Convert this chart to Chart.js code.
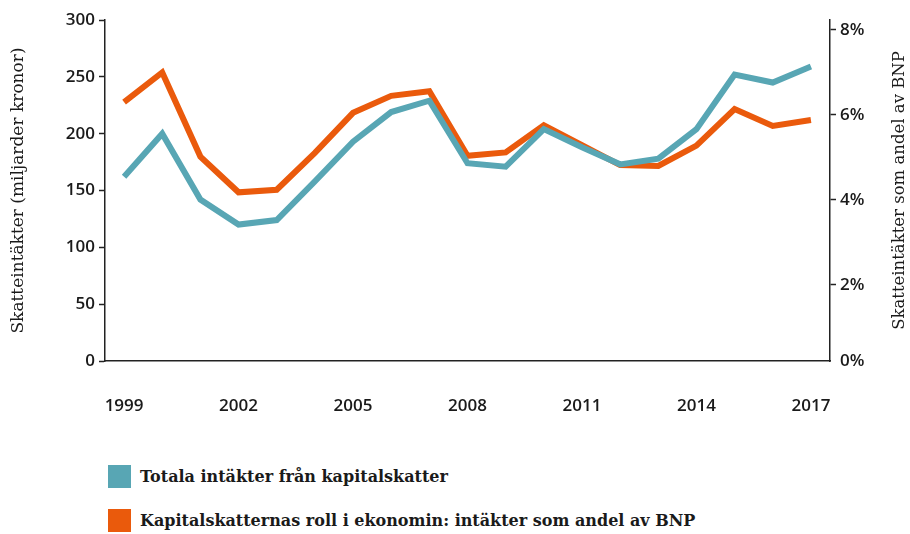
<!DOCTYPE html>
<html>
<head>
<meta charset="utf-8">
<script src="https://cdn.jsdelivr.net/npm/chart.js@4.4.1/dist/chart.umd.min.js"></script>
<style>
  body { margin: 0; background: #fff; }
  #wrap { position: relative; width: 910px; height: 440px; }
  #legend { position: absolute; left: 108px; top: 465px; font-family: "DejaVu Serif", serif; font-weight: bold; font-size: 16px; color: #1a1a1a; }
  #legend div { display: flex; align-items: center; height: 22px; margin-bottom: 22px; }
  #legend span.box { display: inline-block; width: 23px; height: 23px; margin-right: 9px; }
</style>
</head>
<body>
<div id="wrap"><canvas id="taxChart"></canvas></div>
<div id="legend"></div>
<script>
const years = ['1999', '2000', '2001', '2002', '2003', '2004', '2005', '2006', '2007', '2008',
               '2009', '2010', '2011', '2012', '2013', '2014', '2015', '2016', '2017'];
// miljarder kronor
const totalRevenue = [162, 200, 142, 120, 124, 158, 193, 219, 229, 174,
                      171, 204, 188, 173, 178, 204, 252, 245, 259];
// andel av BNP, %
const shareOfGdp = [6.30, 7.00, 5.02, 4.18, 4.24, 5.11, 6.05, 6.45, 6.56, 5.04,
                    5.12, 5.76, 5.29, 4.82, 4.80, 5.28, 6.14, 5.74, 5.88];
const seriesLabels = ['Totala intäkter från kapitalskatter',
                      'Kapitalskatternas roll i ekonomin: intäkter som andel av BNP'];
const leftTicks = [0, 50, 100, 150, 200, 250, 300];
const rightTicks = [2, 4, 6, 8];

const teal = '#58a6b4';
const orange = '#ea5a0c';
const tickFont = { family: 'Open Sans', size: 17, weight: '600' };

// right axis title reads bottom-to-top like the left one
const rightTitle = {
    id: 'rightTitle',
    afterDraw(chart) {
        const ctx = chart.ctx;
        const area = chart.chartArea;
        ctx.save();
        ctx.translate(900, (area.top + area.bottom) / 2);
        ctx.rotate(-Math.PI / 2);
        ctx.font = '16.5px "DejaVu Serif"';
        ctx.fillStyle = '#1a1a1a';
        ctx.textAlign = 'center';
        ctx.textBaseline = 'middle';
        ctx.fillText('Skatteintäkter som andel av BNP', 0, 0);
        ctx.restore();
    }
};

const ctx = document.getElementById('taxChart');
const myChart = new Chart(ctx, {
    type: 'line',
    data: {
        labels: years,
        datasets: [
            {
                label: seriesLabels[0],
                data: totalRevenue,
                borderColor: teal,
                backgroundColor: teal,
                borderWidth: 6,
                pointRadius: 0,
                tension: 0,
                yAxisID: 'y'
            },
            {
                label: seriesLabels[1],
                data: shareOfGdp,
                borderColor: orange,
                backgroundColor: orange,
                borderWidth: 6,
                pointRadius: 0,
                tension: 0,
                yAxisID: 'y1'
            }
        ]
    },
    options: {
        responsive: true,
        maintainAspectRatio: false,
        animation: false,
        layout: { padding: { top: 20, left: 0, right: 0, bottom: 0 } },
        plugins: {
            legend: { display: false },
            tooltip: { enabled: false }
        },
        scales: {
            x: {
                offset: true,
                grid: { display: false, drawTicks: false },
                border: { display: true, color: '#222', width: 1.5 },
                ticks: {
                    autoSkip: false,
                    maxRotation: 0,
                    padding: 35,
                    color: '#1a1a1a',
                    font: tickFont,
                    callback: (v, i) => (i % 3 === 0 ? years[i] : null)
                },
                afterFit: (scale) => { scale.height = 79; }
            },
            y: {
                position: 'left',
                min: 0,
                max: 300,
                afterBuildTicks: (scale) => { scale.ticks = leftTicks.map(v => ({ value: v })); },
                grid: { drawOnChartArea: false, tickLength: 6, color: '#222', tickWidth: 1.5 },
                border: { display: true, color: '#222', width: 1.5 },
                ticks: { padding: 4, color: '#1a1a1a', font: tickFont },
                title: {
                    display: true,
                    text: 'Skatteintäkter (miljarder kronor)',
                    color: '#1a1a1a',
                    font: { family: 'DejaVu Serif', size: 17 },
                    padding: { top: 8, bottom: 0 }
                },
                afterFit: (scale) => { scale.width = 105; }
            },
            y1: {
                position: 'right',
                min: 0.21,
                max: 8.235,
                // bottom of the axis carries the 0% label
                afterBuildTicks: (scale) => {
                    scale.ticks = [{ value: 0.21 }].concat(rightTicks.map(v => ({ value: v })));
                },
                grid: {
                    drawOnChartArea: false, tickLength: 6, tickWidth: 1.5,
                    color: (c) => (c.index === 0 ? 'rgba(0,0,0,0)' : '#222')
                },
                border: { display: true, color: '#222', width: 1.5 },
                ticks: {
                    padding: 4,
                    color: '#1a1a1a',
                    font: tickFont,
                    callback: (v) => (v < 1 ? '0%' : v + '%')
                },
                afterFit: (scale) => { scale.width = 80; }
            }
        }
    },
    plugins: [rightTitle]
});

// legend
const legendEl = document.getElementById('legend');
[teal, orange].forEach((c, i) => {
    const row = document.createElement('div');
    const box = document.createElement('span');
    box.className = 'box';
    box.style.background = c;
    row.appendChild(box);
    row.appendChild(document.createTextNode(seriesLabels[i]));
    legendEl.appendChild(row);
});
</script>
</body>
</html>
